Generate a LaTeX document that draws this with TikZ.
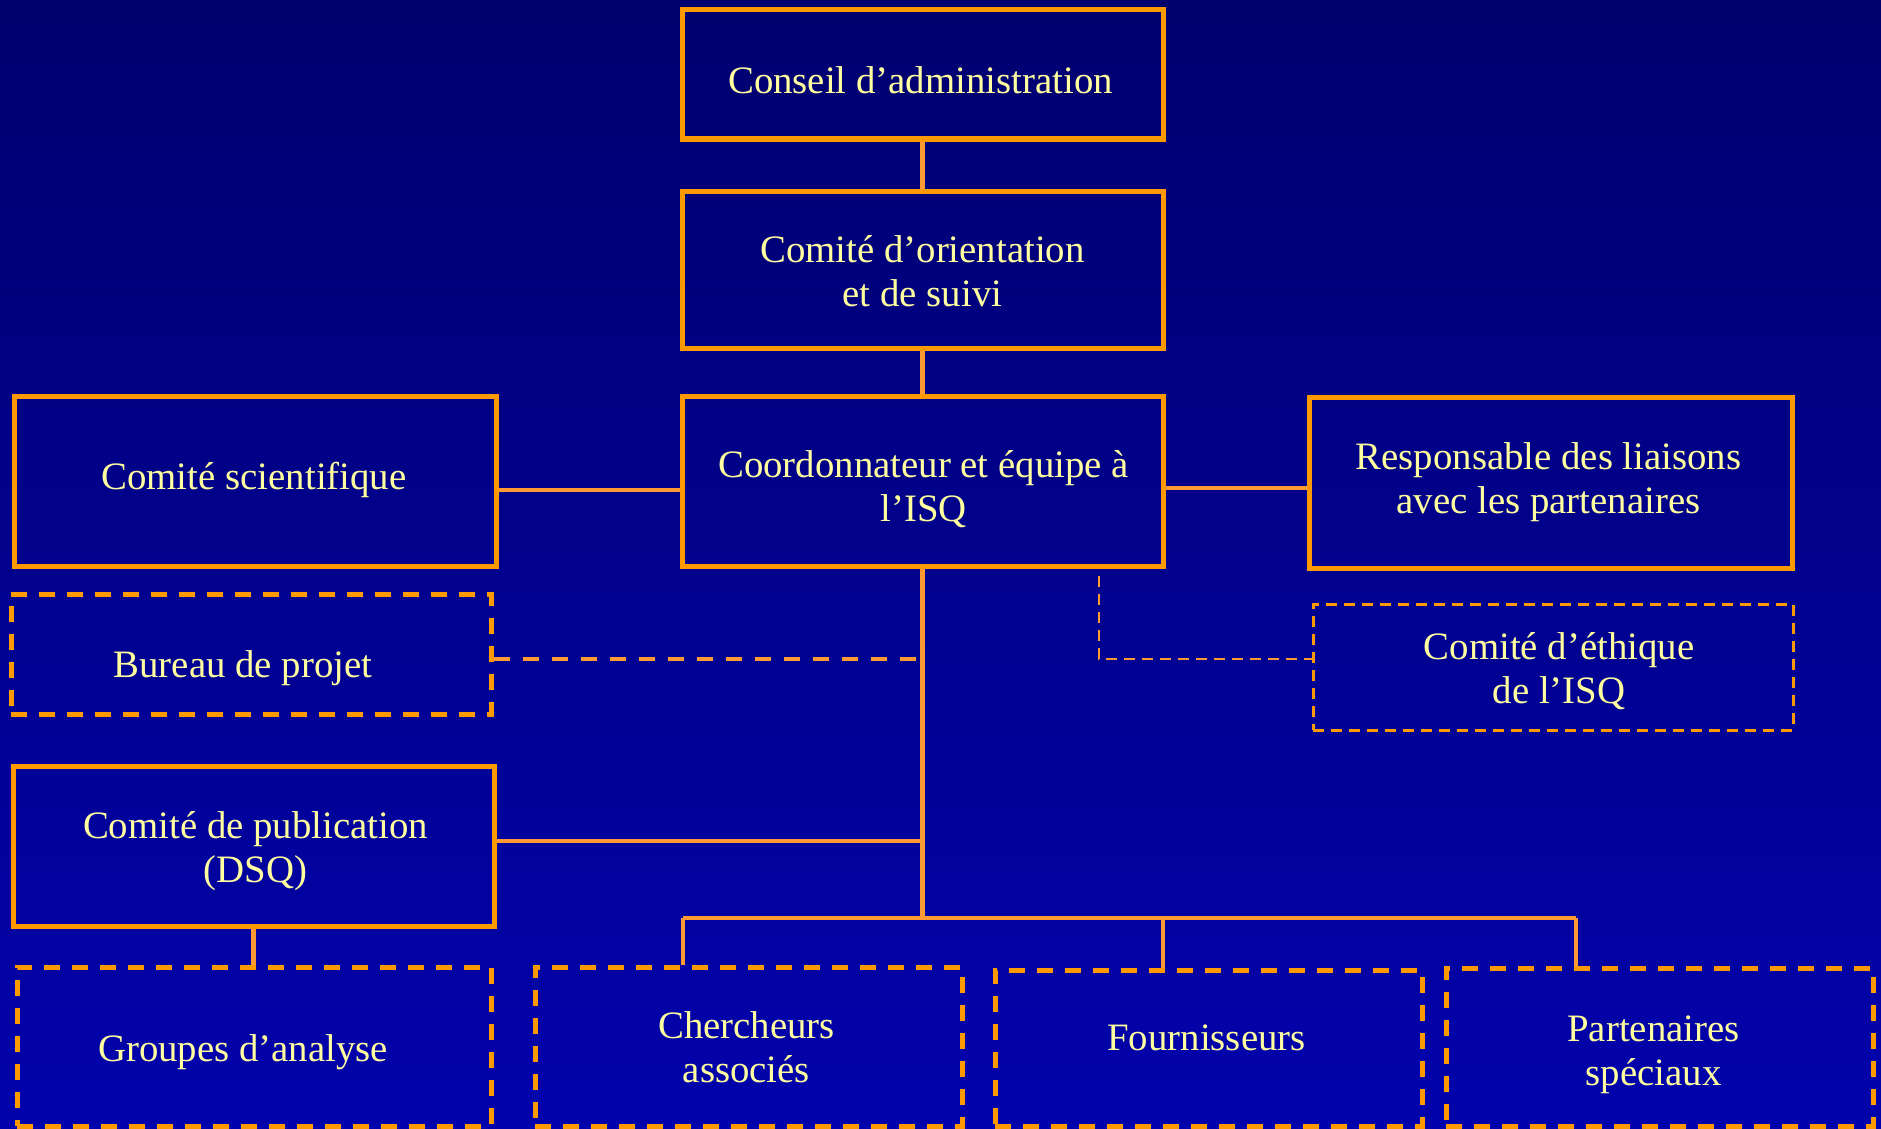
\documentclass[tikz,border=0pt]{standalone}
\usepackage{fontspec}
\setmainfont{Liberation Serif}
\usetikzlibrary{calc}
\definecolor{bgtop}{HTML}{00006E}
\definecolor{bgbot}{HTML}{0202AC}
\definecolor{orgbox}{HTML}{FF9900}
\definecolor{orgline}{HTML}{FF9933}
\definecolor{txt}{HTML}{FFFFA0}
\begin{document}
\begin{tikzpicture}[x=1pt,y=-1pt,
  base/.style={rectangle,inner sep=0pt},
  solidbox/.style={base,draw=orgbox,line width=5pt},
  dashbox/.style={base,draw=orgbox,line width=5pt,dash pattern=on 16pt off 12pt},
  thinbox/.style={base,draw=orgbox,line width=3pt,dash pattern=on 11pt off 7pt},
  lbl/.style={inner sep=0pt,text=txt,align=center,font=\fontsize{38.8}{44}\selectfont},
  conn/.style={draw=orgline,line width=4.5pt},
  dconn/.style={draw=orgline,line width=4pt,dash pattern=on 16pt off 13pt},
  tconn/.style={draw=orgline,line width=2.2pt,dash pattern=on 11pt off 7pt}]
\shade[top color=bgtop,bottom color=bgbot] (0,0) rectangle (1881,1129);
\useasboundingbox (0,0) rectangle (1881,1129);

% boxes
\node[solidbox,minimum width=481pt,minimum height=129pt] (ca) at (922.5,74.5) {};
\node[solidbox,minimum width=481pt,minimum height=157pt] (co) at (922.5,269.5) {};
\node[solidbox,minimum width=481pt,minimum height=170pt] (coord) at (922.5,481) {};
\node[solidbox,minimum width=482pt,minimum height=170pt] (sci) at (255,481) {};
\node[solidbox,minimum width=483pt,minimum height=171pt] (resp) at (1550.5,482.5) {};
\node[dashbox,minimum width=480pt,minimum height=120pt] (bur) at (251,654) {};
\node[thinbox,minimum width=480pt,minimum height=126pt] (eth) at (1553,667) {};
\node[solidbox,minimum width=481pt,minimum height=160pt] (pub) at (253.5,846) {};
\node[dashbox,minimum width=474pt,minimum height=159pt] (grp) at (254,1046.5) {};
\node[dashbox,minimum width=427pt,minimum height=159pt] (cher) at (748.5,1046.5) {};
\node[dashbox,minimum width=427pt,minimum height=156pt] (four) at (1208.5,1048) {};
\node[dashbox,minimum width=427pt,minimum height=158pt] (part) at (1659.5,1047) {};

% texts
\node[lbl] (ca-t) at ($(ca)+(-2,6)$) {Conseil d’administration};
\node[lbl] (co-t) at ($(co)+(0,2)$) {Comité d’orientation\\et de suivi};
\node[lbl] (coord-t) at ($(coord)+(1,8)$) {Coordonnateur et équipe à\\l’ISQ};
\node[lbl] (sci-t) at ($(sci)+(-1,-1)$) {Comité scientifique};
\node[lbl] (resp-t) at ($(resp)+(-2,0)$) {Responsable des liaisons\\avec les partenaires};
\node[lbl] (bur-t) at ($(bur)+(-8,14)$) {Bureau de projet};
\node[lbl] (eth-t) at ($(eth)+(6,4)$) {Comité d’éthique\\de l’ISQ};
\node[lbl] (pub-t) at ($(pub)+(2,5)$) {Comité de publication\\(DSQ)};
\node[lbl] (grp-t) at ($(grp)+(-11,6)$) {Groupes d’analyse};
\node[lbl] (cher-t) at ($(cher)+(-2,1)$) {Chercheurs\\associés};
\node[lbl] (four-t) at ($(four)+(-2,-10)$) {Fournisseurs};
\node[lbl] (part-t) at ($(part)+(-6,8)$) {Partenaires\\spéciaux};

% connectors
\coordinate (busL) at (683,918);
\coordinate (busM) at (1163,918);
\coordinate (busR) at (1576,918);
\coordinate (sc) at ([yshift=-9pt]sci.east);
\coordinate (cr) at ([yshift=-7pt]coord.east);
\coordinate (bj) at ([yshift=-5pt]bur.east);
\coordinate (pj) at ([yshift=5pt]pub.east);
\coordinate (e0) at (1099,576);
\coordinate (ej) at ([yshift=8pt]eth.west);

\draw[conn] (ca.south) -- (co.north);
\draw[conn] (co.south) -- (coord.north);
\draw[conn] (coord.south) -- (coord.south |- busL);
\draw[conn] (sc) -- (sc -| coord.west);
\draw[conn] (cr) -- (cr -| resp.west);
\draw[conn] (pj) -- (pj -| coord.south);
\draw[conn] (busL) -- (busR);
\draw[conn] (busL) -- (busL |- cher.north);
\draw[conn] (busM) -- (busM |- four.north);
\draw[conn] (busR) -- (busR |- part.north);
\draw[conn] (pub.south) -- (pub.south |- grp.north);
\draw[dconn] (bj) -- ([xshift=3pt]bj -| coord.south);
\draw[tconn] (e0) |- (ej);
\end{tikzpicture}
\end{document}
